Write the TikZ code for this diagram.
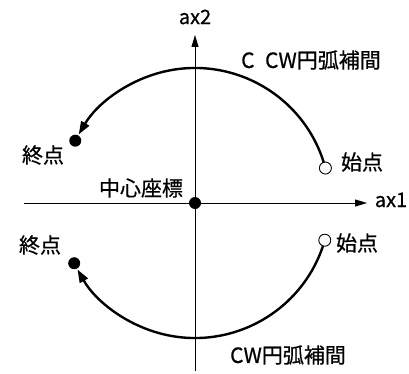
\documentclass[tikz,border=0pt]{standalone}
\usepackage{fontspec}
\setmainfont{Noto Sans CJK JP}[FakeBold=0.6]
\usetikzlibrary{arrows.meta}
\begin{document}
\begin{tikzpicture}[x=1pt,y=1pt,
  lbl/.style={inner sep=0pt, font=\fontsize{21}{22}\selectfont},
  axlbl/.style={inner sep=0pt, font=\fontsize{20}{21}\selectfont},
  axisline/.style={line width=0.9pt, -{Triangle[length=12pt,width=7pt]}},
  arcline/.style={line width=2.4pt, -{Triangle[length=13pt,width=9pt]}},
  startpt/.style={circle, draw, line width=0.9pt, fill=white, minimum size=12pt, inner sep=0pt},
  endpt/.style={circle, fill=black, minimum size=12pt, inner sep=0pt},
  centerpt/.style={circle, fill=black, minimum size=12pt, inner sep=0pt}]
\useasboundingbox (0,0) rectangle (409,373);
% axes
\coordinate (xl) at (24,170);
\coordinate (xr) at (367,170);
\coordinate (yb) at (195,2);
\coordinate (yt) at (195,338);
\draw[axisline] (xl) -- (xr);
\draw[axisline] (yb) -- (yt);
\coordinate (c) at (195,170);
% arcs
\draw[arcline] ([shift={(15:135)}]c) arc[start angle=15, end angle=149.5, radius=135];
\draw[arcline] ([shift={(-16:135)}]c) arc[start angle=-16, end angle=-150.5, radius=135];
% points
\node[centerpt] (cp) at (c) {};
\node[startpt] (s1) at ([shift={(15:135)}]c) {};
\node[endpt] (e1) at ([shift={(152.5:135)}]c) {};
\node[startpt] (s2) at ([shift={(-16:135)}]c) {};
\node[endpt] (e2) at ([shift={(-153.5:135)}]c) {};
% labels
\node[axlbl] (ax2) at (195,356) {ax2};
\node[axlbl] (ax1) at (391,173) {ax1};
\node[lbl] (ccw) at (311,313) {C\,\,\,CW円弧補間};
\node[lbl] (cw) at (288,18) {CW円弧補間};
\node[lbl] (end1) at (43,218) {終点};
\node[lbl] (end2) at (40,128) {終点};
\node[lbl] (st1) at (362,211) {始点};
\node[lbl] (st2) at (357,130) {始点};
\node[lbl] (ctr) at (141,185) {中心座標};
\end{tikzpicture}
\end{document}
